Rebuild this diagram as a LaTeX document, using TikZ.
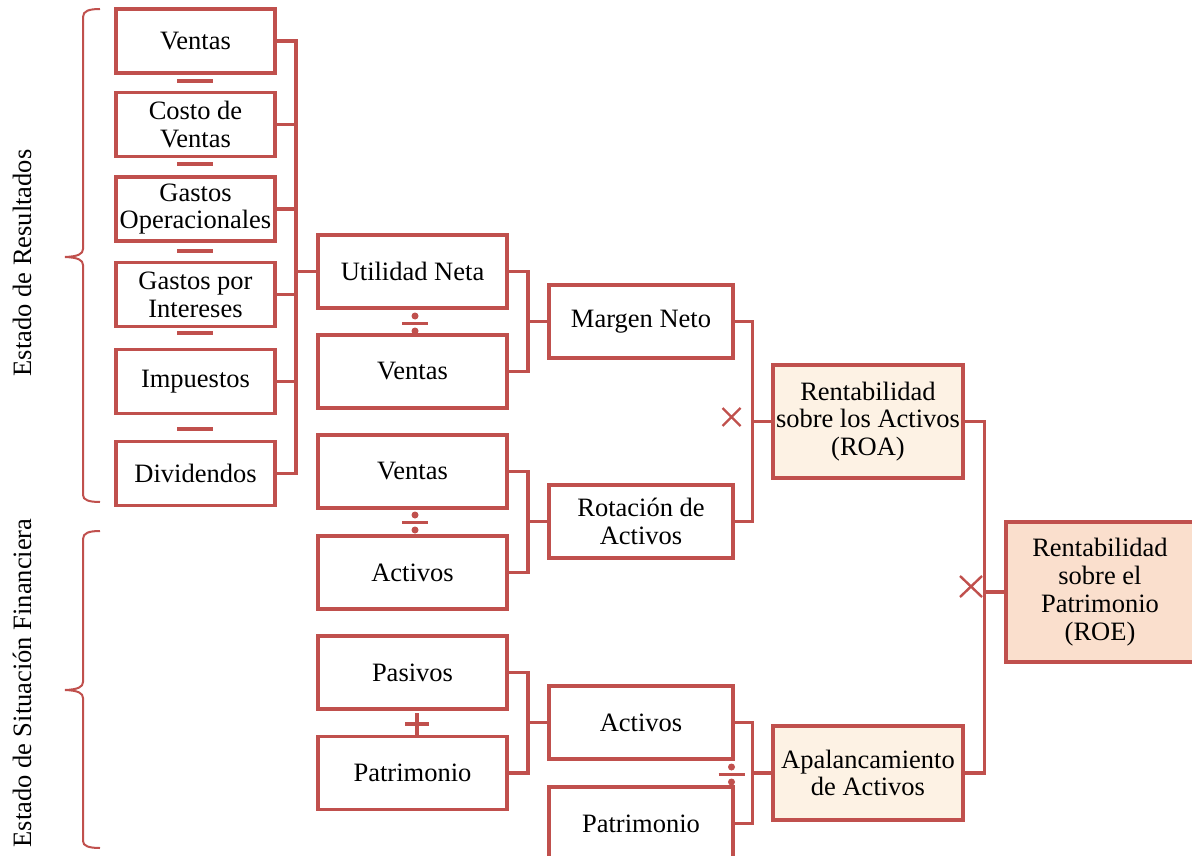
\documentclass[tikz,border=0pt]{standalone}
\usepackage{fontspec}
\setmainfont{Liberation Serif}
\definecolor{frame}{HTML}{C0504D}
\definecolor{roafill}{HTML}{FDF2E4}
\definecolor{roefill}{HTML}{FADFCD}
\begin{document}
\begin{tikzpicture}[x=1pt,y=-1pt,
  box/.style={draw=frame, line width=3.2pt, fill=white, align=center,
    inner sep=0pt, font=\fontsize{26.5}{27.8}\selectfont, text=black},
  colone/.style={box, minimum width=159pt, minimum height=64pt},
  coltwo/.style={box, minimum width=189pt, minimum height=73pt},
  colthree/.style={box, minimum width=184pt, minimum height=73pt},
  colfour/.style={box, minimum width=190pt, fill=roafill},
  conn/.style={draw=frame, line width=3.2pt},
  opline/.style={draw=frame, line width=3.2pt},
  crossline/.style={draw=frame, line width=2.4pt},
  bracket/.style={draw=frame, line width=2pt},
  sidelabel/.style={rotate=90, font=\fontsize{26.5}{28}\selectfont, inner sep=0pt}]
\useasboundingbox (0,0) rectangle (1192,856);
\clip (0,0) rectangle (1192,856);

% income statement items
\node[colone] (v1) at (195.5,41)    {Ventas};
\node[colone] (cv) at (195.5,124.5) {Costo de\\Ventas};
\node[colone] (go) at (195.5,209)   {Gastos\\Operacionales};
\node[colone] (gi) at (195.5,294.5) {Gastos por\\Intereses};
\node[colone] (im) at (195.5,381.5) {Impuestos};
\node[colone] (dv) at (195.5,473.5) {Dividendos};

% second column
\node[coltwo] (un) at (412.5,271.5) {Utilidad Neta};
\node[coltwo] (v2) at (412.5,371.5) {Ventas};
\node[coltwo] (v3) at (412.5,471.5) {Ventas};
\node[coltwo] (a1) at (412.5,572.5) {Activos};
\node[coltwo] (ps) at (412.5,672.5) {Pasivos};
\node[coltwo] (p1) at (412.5,773)   {Patrimonio};

% third column
\node[colthree] (mn) at (641,321.5) {Margen Neto};
\node[colthree] (ra) at (641,521.5) {Rotación de\\Activos};
\node[colthree] (a2) at (641,722.5) {Activos};
\node[colthree] (p2) at (641,823.5) {Patrimonio};

% fourth and fifth columns
\node[colfour, minimum height=113pt] (roa) at (868,421.5) {Rentabilidad\\sobre los Activos\\(ROA)};
\node[colfour, minimum height=94pt] (apa) at (868,773) {Apalancamiento\\de Activos};
\node[box, fill=roefill, minimum width=188pt, minimum height=140pt] (roe) at (1100,592)
  {Rentabilidad\\sobre el\\Patrimonio\\(ROE)};

% bus lines
\coordinate (b1) at (296,0);
\coordinate (b2) at (528,0);
\coordinate (b3) at (752.5,0);
\coordinate (b4) at (984.5,0);

\draw[conn] (v1.east) -- (v1.east -| b1) -- (dv.east -| b1) -- (dv.east);
\foreach \n in {cv,go,gi,im} \draw[conn] (\n.east) -- (\n.east -| b1);
\draw[conn] (b1 |- un.west) -- (un.west);

\draw[conn] (un.east) -- (un.east -| b2) -- (v2.east -| b2) -- (v2.east);
\draw[conn] (b2 |- mn.west) -- (mn.west);
\draw[conn] (v3.east) -- (v3.east -| b2) -- (a1.east -| b2) -- (a1.east);
\draw[conn] (b2 |- ra.west) -- (ra.west);
\draw[conn] (ps.east) -- (ps.east -| b2) -- (p1.east -| b2) -- (p1.east);
\draw[conn] (b2 |- a2.west) -- (a2.west);

\draw[conn] (mn.east) -- (mn.east -| b3) -- (ra.east -| b3) -- (ra.east);
\draw[conn] (b3 |- roa.west) -- (roa.west);
\draw[conn] (a2.east) -- (a2.east -| b3) -- (p2.east -| b3) -- (p2.east);
\draw[conn] (b3 |- apa.west) -- (apa.west);

\draw[conn] (roa.east) -- (roa.east -| b4) -- (apa.east -| b4) -- (apa.east);
\draw[conn] (b4 |- roe.west) -- (roe.west);

% minus signs
\foreach \y in {81,164,251,333,429} \draw[opline] (177,\y) -- (213,\y);

% division signs
\foreach \x/\y in {415/323.5, 415/522.5, 731.5/774.5} {
  \draw[opline] (\x-13,\y) -- (\x+13,\y);
  \fill[frame] (\x,\y-7.5) circle (3.5pt);
  \fill[frame] (\x,\y+7.5) circle (3.5pt);
}

% plus sign
\draw[opline] (405,724) -- (429,724);
\draw[opline] (417,713) -- (417,735);

% multiplication signs
\draw[crossline] (722.5,408) -- (740.5,426) (722.5,426) -- (740.5,408);
\draw[crossline] (960,576) -- (982,597) (960,597) -- (982,576);

% braces
\draw[bracket] (100,9) .. controls (89,9) and (83,11) .. (83,17) -- (83,249)
  .. controls (83,254) and (78,256.5) .. (65,257)
  .. controls (78,257.5) and (83,260) .. (83,265) -- (83,495)
  .. controls (83,500) and (89,502) .. (100,502);
\draw[bracket] (100,531) .. controls (89,531) and (83,533) .. (83,539) -- (83,682)
  .. controls (83,687) and (78,689.5) .. (65,690)
  .. controls (78,690.5) and (83,693) .. (83,698) -- (83,841)
  .. controls (83,846) and (89,848) .. (100,848);

% side labels
\node[sidelabel] (er) at (22,263) {Estado de Resultados};
\node[sidelabel] (sf) at (22,683) {Estado de Situación Financiera};
\end{tikzpicture}
\end{document}
